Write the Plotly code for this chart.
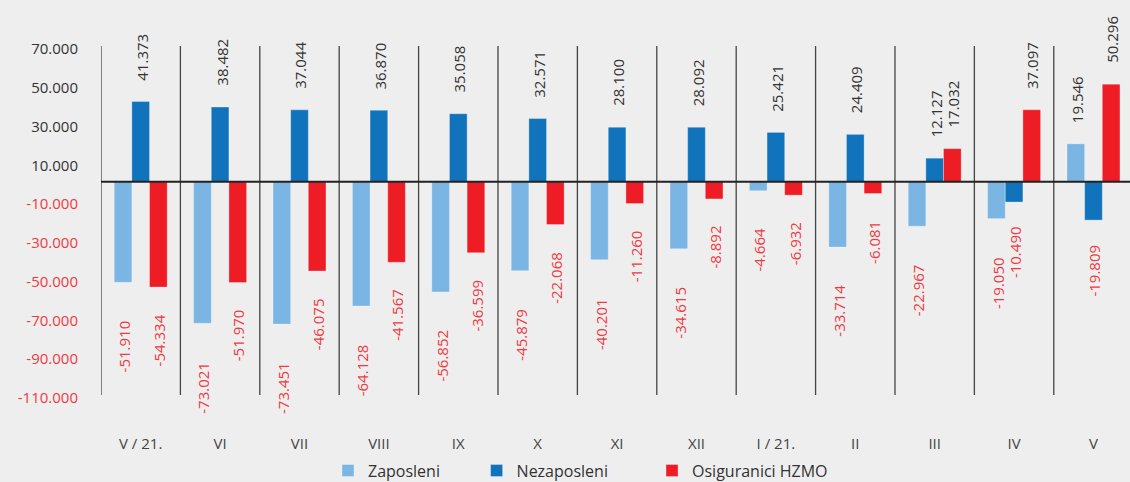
import plotly.graph_objects as go

# months (May 2021 - May 2022) and yearly change per group
months = ["V / 21.", "VI", "VII", "VIII", "IX", "X", "XI", "XII",
          "I / 21.", "II", "III", "IV", "V"]
zaposleni = [-51910, -73021, -73451, -64128, -56852, -45879, -40201,
             -34615, -4664, -33714, -22967, -19050, 19546]
nezaposleni = [41373, 38482, 37044, 36870, 35058, 32571, 28100,
               28092, 25421, 24409, 12127, -10490, -19809]
osiguranici = [-54334, -51970, -46075, -41567, -36599, -22068, -11260,
               -8892, -6932, -6081, 17032, 37097, 50296]
y_ticks = [70000, 50000, 30000, 10000, -10000, -30000, -50000,
           -70000, -90000, -110000]

RED_TXT = "#ee3a43"
DARK_TXT = "#333333"
FONT = "Open Sans"


def fmt(v):
    return f"{v:,}".replace(",", ".")


series = [
    ("Zaposleni", zaposleni, "#7ab5e4", "legend", 0.2206, 36),
    ("Nezaposleni", nezaposleni, "#1173bb", "legend2", 0.365, 22),
    ("Osiguranici HZMO", osiguranici, "#ee1c25", "legend3", 0.5355, 25),
]

fig = go.Figure()
bar_px = 17.65  # pixel width of one bar, used to shift labels over bars
annotations = []

for k, (name, vals, color, leg, _, neg_gap) in enumerate(series):
    fig.add_trace(go.Bar(
        x=months,
        y=vals,
        name=name,
        legend=leg,
        marker=dict(color=color, line=dict(width=1, color="rgba(255,255,255,0.3)")),
        hoverinfo="x+y+name",
    ))
    for m, v in zip(months, vals):
        pos = v >= 0
        annotations.append(dict(
            x=m, y=v, xref="x", yref="y",
            text=fmt(v),
            textangle=-90,
            showarrow=False,
            xanchor="center",
            yanchor="bottom" if pos else "top",
            xshift=(k - 1) * bar_px + 1,
            yshift=19 if pos else -neg_gap,
            font=dict(family=FONT, size=15, color=DARK_TXT if pos else RED_TXT),
        ))

# vertical separators between months and the zero line on top of bars
shapes = [
    dict(type="line", xref="x", yref="y", x0=i - 0.5, x1=i - 0.5,
         y0=-110000, y1=70000, line=dict(color="#444444", width=1.3), layer="above")
    for i in range(len(months))
]
shapes.append(dict(type="line", xref="paper", yref="y", x0=0, x1=1, y0=0, y1=0,
                   line=dict(color="#222222", width=2), layer="above"))

tick_text = [fmt(t) if t > 0 else f'<span style="color:{RED_TXT}">{fmt(t)}</span>'
             for t in y_ticks]

layout_legends = {}
for name, vals, color, leg, lx, _ in series:
    layout_legends[leg] = dict(
        orientation="h", x=lx, y=-0.118, xanchor="left", yanchor="middle",
        font=dict(family=FONT, size=16, color=DARK_TXT),
        bgcolor="rgba(0,0,0,0)",
    )

fig.update_layout(
    width=1130, height=482,
    margin=dict(l=101, r=0, t=10, b=60, autoexpand=False),
    paper_bgcolor="#eeeeee",
    plot_bgcolor="#eeeeee",
    barmode="group",
    bargap=0.333,
    bargroupgap=0,
    font=dict(family=FONT, color=DARK_TXT),
    showlegend=True,
    annotations=annotations,
    shapes=shapes,
    xaxis=dict(
        type="category",
        range=[-0.5, 12.46],
        showgrid=False, showline=False, zeroline=False,
        ticks="",
        tickfont=dict(family=FONT, size=15, color="#444444"),
        ticklabelstandoff=11,
    ),
    yaxis=dict(
        range=[-123930, 88550],
        tickvals=y_ticks,
        ticktext=tick_text,
        showgrid=False, showline=False, zeroline=False,
        ticks="",
        tickfont=dict(family=FONT, size=15, color=DARK_TXT),
        ticklabelstandoff=22,
        ticklabelshift=3,
    ),
    **layout_legends,
)

# drop the browser's default body margin so the figure sits at the page corner
fig.write_html("out.html", config={"displayModeBar": False},
               post_script="document.body.style.margin='0';")
